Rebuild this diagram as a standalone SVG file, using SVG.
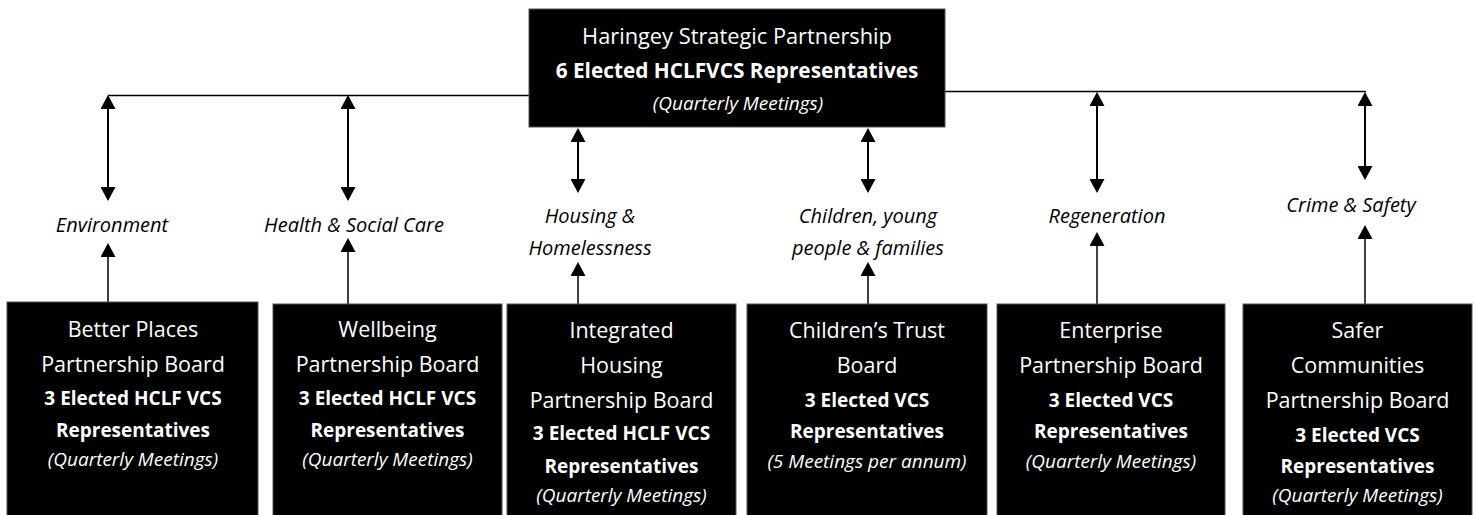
<svg xmlns="http://www.w3.org/2000/svg" width="1475" height="515" viewBox="0 0 1475 515">
<style>
.box{fill:#000;stroke:#555;stroke-width:1}
.t{font-family:"Open Sans","Liberation Sans",sans-serif;fill:#fff;text-anchor:middle}
.n{font-size:21.5px}
.b{font-size:19px;font-weight:bold}
.bt{font-size:20.8px;font-weight:bold}
.i{font-size:19px;font-style:italic}
.lab{font-family:"Open Sans","Liberation Sans",sans-serif;font-size:20px;font-style:italic;fill:#000;text-anchor:middle}
.ln{stroke:#000;fill:none}
.dbl{stroke-width:2;marker-start:url(#ah);marker-end:url(#ah)}
.up{stroke-width:1.5;marker-end:url(#ah)}
</style>
<defs>
<marker id="ah" viewBox="0 0 14 15" refX="10" refY="7.5" markerWidth="14" markerHeight="15" markerUnits="userSpaceOnUse" orient="auto-start-reverse">
<path d="M0,0 L14,7.5 L0,15 z" fill="#000"/>
</marker>
</defs>
<rect width="1475" height="515" fill="#fff"/>
<g id="connectors">
<line class="ln" x1="108" y1="95.5" x2="529" y2="95.5" stroke-width="1.5"/>
<line class="ln" x1="945" y1="91.5" x2="1366" y2="91.5" stroke-width="1.5"/>
<line class="ln dbl" x1="108" y1="99" x2="108" y2="197"/>
<line class="ln dbl" x1="348" y1="99" x2="348" y2="197"/>
<line class="ln dbl" x1="578" y1="132" x2="578" y2="189"/>
<line class="ln dbl" x1="868" y1="132" x2="868" y2="189"/>
<line class="ln dbl" x1="1097" y1="96" x2="1097" y2="189"/>
<line class="ln dbl" x1="1365" y1="96" x2="1365" y2="176"/>
<line class="ln up" x1="108" y1="302" x2="108" y2="247"/>
<line class="ln up" x1="348" y1="304" x2="348" y2="242"/>
<line class="ln up" x1="578" y1="304" x2="578" y2="266"/>
<line class="ln up" x1="868" y1="304" x2="868" y2="266"/>
<line class="ln up" x1="1097" y1="304" x2="1097" y2="236"/>
<line class="ln up" x1="1365" y1="304" x2="1365" y2="229"/>
</g>
<g id="labels">
<text class="lab" x="112" y="232">Environment</text>
<text class="lab" x="354" y="232">Health &amp; Social Care</text>
<text class="lab" x="590" y="223">Housing &amp;</text>
<text class="lab" x="590" y="255">Homelessness</text>
<text class="lab" x="868" y="223">Children, young</text>
<text class="lab" x="868" y="255">people &amp; families</text>
<text class="lab" x="1107" y="223">Regeneration</text>
<text class="lab" x="1351" y="212">Crime &amp; Safety</text>
</g>
<g id="hsp">
<rect class="box" x="529" y="9" width="416" height="118"/>
<text class="t n" x="737" y="44" style="font-size:21.8px">Haringey Strategic Partnership</text>
<text class="t bt" x="737" y="78">6 Elected HCLFVCS Representatives</text>
<text class="t i" x="738" y="110">(Quarterly Meetings)</text>
</g>
<g id="better-places">
<rect class="box" x="7" y="302" width="251" height="220"/>
<text class="t n" x="133" y="337">Better Places</text>
<text class="t n" x="133" y="372">Partnership Board</text>
<text class="t b" x="133" y="405">3 Elected HCLF VCS</text>
<text class="t b" x="133" y="437">Representatives</text>
<text class="t i" x="133" y="466">(Quarterly Meetings)</text>
</g>
<g id="wellbeing">
<rect class="box" x="273" y="304" width="229" height="220"/>
<text class="t n" x="387.5" y="337">Wellbeing</text>
<text class="t n" x="387.5" y="372">Partnership Board</text>
<text class="t b" x="387.5" y="405">3 Elected HCLF VCS</text>
<text class="t b" x="387.5" y="437">Representatives</text>
<text class="t i" x="387.5" y="466">(Quarterly Meetings)</text>
</g>
<g id="housing">
<rect class="box" x="507" y="304" width="229" height="220"/>
<text class="t n" x="621.5" y="338">Integrated</text>
<text class="t n" x="621.5" y="373">Housing</text>
<text class="t n" x="621.5" y="408">Partnership Board</text>
<text class="t b" x="621.5" y="440">3 Elected HCLF VCS</text>
<text class="t b" x="621.5" y="473">Representatives</text>
<text class="t i" x="621.5" y="502">(Quarterly Meetings)</text>
</g>
<g id="childrens-trust">
<rect class="box" x="747" y="304" width="240" height="220"/>
<text class="t n" x="867" y="338">Children’s Trust</text>
<text class="t n" x="867" y="373">Board</text>
<text class="t b" x="867" y="407">3 Elected VCS</text>
<text class="t b" x="867" y="438">Representatives</text>
<text class="t i" x="867" y="468">(5 Meetings per annum)</text>
</g>
<g id="enterprise">
<rect class="box" x="997" y="304" width="228" height="220"/>
<text class="t n" x="1111" y="338">Enterprise</text>
<text class="t n" x="1111" y="373">Partnership Board</text>
<text class="t b" x="1111" y="407">3 Elected VCS</text>
<text class="t b" x="1111" y="438">Representatives</text>
<text class="t i" x="1111" y="468">(Quarterly Meetings)</text>
</g>
<g id="safer-communities">
<rect class="box" x="1243" y="304" width="229" height="220"/>
<text class="t n" x="1357.5" y="338">Safer</text>
<text class="t n" x="1357.5" y="373">Communities</text>
<text class="t n" x="1357.5" y="408">Partnership Board</text>
<text class="t b" x="1357.5" y="442">3 Elected VCS</text>
<text class="t b" x="1357.5" y="473">Representatives</text>
<text class="t i" x="1357.5" y="502">(Quarterly Meetings)</text>
</g>
</svg>
